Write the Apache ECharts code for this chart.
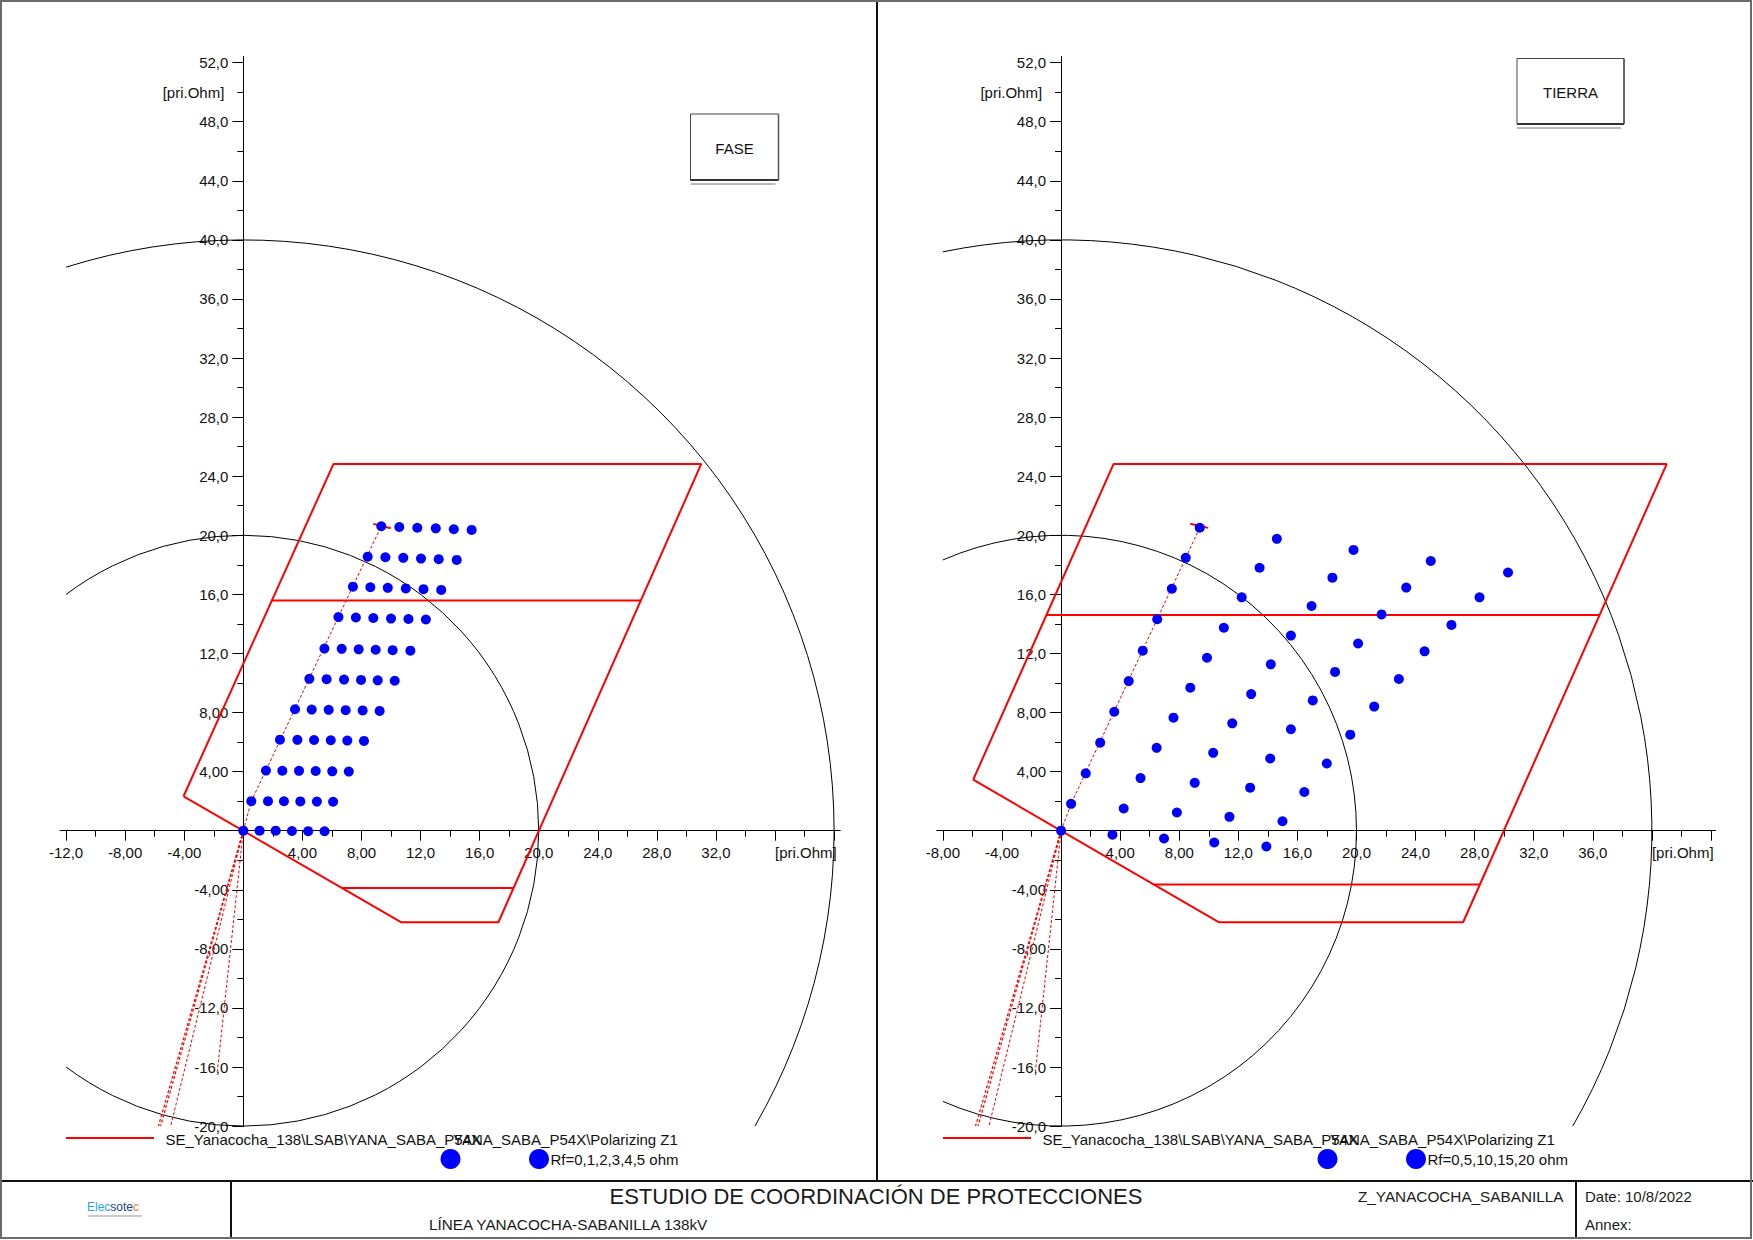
<!DOCTYPE html>
<html>
<head>
<meta charset="utf-8">
<script src="https://cdn.jsdelivr.net/npm/echarts@6/dist/echarts.min.js"></script>
<style>
html,body{margin:0;padding:0;background:#fff;}
#chart{width:1753px;height:1240px;}
</style>
</head>
<body>
<div id="chart"></div>
<script>
// ---------------- DATA ----------------
// axis ticks (ohm)
const leftXMajor = [-12,-8,-4,0,4,8,12,16,20,24,28,32,36,40];
const leftXMinor = [-10,-6,-2,2,6,10,14,18,22,26,30,34,38];
const leftXLabels = [-12,-8,-4,4,8,12,16,20,24,28,32];
const rightXMajor = [-8,-4,0,4,8,12,16,20,24,28,32,36,40,44];
const rightXMinor = [-6,-2,2,6,10,14,18,22,26,30,34,38,42];
const rightXLabels = [-8,-4,4,8,12,16,20,24,28,32,36];
const yMajor = [-20,-16,-12,-8,-4,0,4,8,12,16,20,24,28,32,36,40,44,48,52];
const yMinor = [-18,-14,-10,-6,-2,2,6,10,14,18,22,26,30,34,38,42,46,50];
const yLabels = [-20,-16,-12,-8,-4,4,8,12,16,20,24,28,32,36,40,44,48,52];
const leftXUnitAt = [36];
const rightXUnitAt = [40];
const yUnitAt = [50];
const unitText = '[pri.Ohm]';

// circles: [cx, cy, radius, startAngleDeg, endAngleDeg] (drawn clockwise)
const faseArcs = [[0,0,40,107.46,-30],[0,0,20,126.87,-126.87]];
const tierraArcs = [[0,0,40,101.54,-30],[0,0,20,113.58,-113.58]];

// FASE zone characteristic
const faseZone = [[-4.05,2.33],[6.1,24.82],[31.0,24.82],[17.27,-6.2],[10.7,-6.2],[-4.05,2.33]];
const faseZoneMid = [[1.93,15.58],[26.91,15.58]];
const faseZoneLow = [[6.75,-3.88],[18.29,-3.88]];
const faseLineImp = [[0,0],[0.54,2.0],[9.34,20.61]];
const faseLineEnd = [[8.80,20.77],[9.98,20.48]];
const faseRev1 = [[0,0],[-5.75,-20]];
const faseRev2 = [[0,0],[-5.6,-20]];
const faseRev3 = [[0,0],[-4.92,-20]];
const faseRev4 = [[0,0],[-1.76,-16.3]];

// TIERRA zone characteristic
const tierraZone = [[-5.95,3.45],[3.55,24.82],[41.0,24.82],[27.22,-6.2],[10.7,-6.2],[-5.95,3.45]];
const tierraZoneMid = [[-0.99,14.6],[36.45,14.6]];
const tierraZoneLow = [[6.3,-3.64],[28.36,-3.64]];
const tierraLineImp = [[0,0],[0.68,1.82],[9.39,20.51]];
const tierraLineEnd = [[8.75,20.78],[9.96,20.5]];
const tierraRev1 = [[0,0],[-5.79,-20]];
const tierraRev2 = [[0,0],[-5.62,-20]];
const tierraRev3 = [[0,0],[-4.88,-20]];
const tierraRev4 = [[0,0],[-1.74,-16.3]];

// FASE fault points, one row per line location, Rf = 0,1,2,3,4,5 ohm
const faseRows = [
  [[0,0],[1.10,0],[2.19,0],[3.29,-0.02],[4.39,-0.03],[5.50,-0.04]],
  [[0.54,2.0],[1.67,2.0],[2.75,1.99],[3.86,1.98],[4.98,1.97],[6.08,1.96]],
  [[1.53,4.07],[2.64,4.06],[3.77,4.05],[4.90,4.04],[6.02,4.02],[7.14,4.0]],
  [[2.48,6.16],[3.66,6.15],[4.79,6.14],[5.92,6.12],[7.04,6.10],[8.17,6.08]],
  [[3.50,8.22],[4.63,8.20],[5.78,8.18],[6.93,8.16],[8.08,8.14],[9.23,8.11]],
  [[4.47,10.28],[5.64,10.26],[6.82,10.23],[7.97,10.21],[9.10,10.18],[10.25,10.15]],
  [[5.49,12.33],[6.66,12.31],[7.81,12.28],[8.96,12.25],[10.11,12.22],[11.31,12.19]],
  [[6.44,14.46],[7.62,14.43],[8.80,14.40],[10.0,14.36],[11.18,14.33],[12.36,14.30]],
  [[7.42,16.52],[8.60,16.48],[9.78,16.44],[11.0,16.40],[12.2,16.35],[13.4,16.30]],
  [[8.42,18.55],[9.62,18.51],[10.83,18.47],[12.03,18.42],[13.23,18.38],[14.45,18.33]],
  [[9.34,20.61],[10.56,20.56],[11.78,20.51],[13.03,20.47],[14.25,20.41],[15.46,20.36]]
];

// TIERRA fault points, one column per Rf = 0,5,10,15,20 ohm
const tierraCols = [
  [[0,0],[0.68,1.82],[1.67,3.88],[2.65,5.96],[3.60,8.05],[4.58,10.13],[5.53,12.19],[6.51,14.32],[7.50,16.38],[8.44,18.47],[9.39,20.51]],
  [[3.48,-0.27],[4.24,1.50],[5.38,3.56],[6.47,5.61],[7.61,7.65],[8.75,9.68],[9.88,11.71],[11.02,13.74],[12.23,15.80],[13.44,17.80],[14.61,19.76]],
  [[6.97,-0.53],[7.84,1.23],[9.05,3.24],[10.30,5.27],[11.59,7.27],[12.87,9.25],[14.20,11.26],[15.56,13.21],[16.96,15.21],[18.37,17.13],[19.80,19.01]],
  [[10.37,-0.80],[11.40,0.94],[12.80,2.91],[14.16,4.89],[15.56,6.87],[17.04,8.82],[18.55,10.75],[20.11,12.67],[21.70,14.64],[23.37,16.46],[25.03,18.26]],
  [[13.90,-1.07],[14.99,0.64],[16.47,2.62],[17.99,4.55],[19.58,6.50],[21.20,8.40],[22.87,10.27],[24.61,12.14],[26.43,13.93],[28.33,15.80],[30.26,17.48]]
];

// texts
const legendRelay = 'SE_Yanacocha_138\\LSAB\\YANA_SABA_P54X';
const legendPolar = 'YANA_SABA_P54X\\Polarizing Z1';
const legendFaseRf = 'Rf=0,1,2,3,4,5 ohm';
const legendTierraRf = 'Rf=0,5,10,15,20 ohm';
const titleMain = 'ESTUDIO DE COORDINACIÓN DE PROTECCIONES';
const titleSub = 'LÍNEA YANACOCHA-SABANILLA 138kV';
const titleCode = 'Z_YANACOCHA_SABANILLA';
const titleDate = 'Date: 10/8/2022';
const titleAnnex = 'Annex:';

// ---------------- CHART ----------------
const FONT = "'Liberation Sans', Arial, Helvetica, sans-serif";
const RED = '#ff0000';
const BLUE = '#0000ff';

// grid layout (pixels) and axis extents
const Y_MIN = -20, Y_MAX = 52.4;
const G_TOP = 56.7, G_H = 1069.4;
const gridL = {left: 60.2, width: 779.8, xmin: -12.4, xmax: 40.4};
const gridR = {left: 937.0, width: 778.4, xmin: -8.4, xmax: 44.3};

// offsets that place the axes through the origin (axis labels follow the line)
function xOffset() { return -(0 - Y_MIN) * G_H / (Y_MAX - Y_MIN); }
function yOffset(g) { return -(0 - g.xmin) * g.width / (g.xmax - g.xmin); }

function fmt(v) {
  const a = Math.abs(v);
  const s = a >= 10 ? v.toFixed(1) : v.toFixed(2);
  return s.replace('.', ',');
}

function xMain(grid, g, ticks, labels) {
  return {
    type: 'value', gridIndex: grid, min: g.xmin, max: g.xmax, position: 'bottom', offset: xOffset(),
    axisLine: {show: true, onZero: false, lineStyle: {color: '#000', width: 1}},
    axisTick: {show: true, customValues: ticks, length: 10, inside: false, lineStyle: {color: '#000', width: 1}},
    axisLabel: {show: true, customValues: labels, formatter: fmt, margin: 14, color: '#111', fontSize: 15, fontFamily: FONT},
    splitLine: {show: false}
  };
}
function xMinor(grid, g, ticks, unitAt) {
  return {
    type: 'value', gridIndex: grid, min: g.xmin, max: g.xmax, position: 'bottom', offset: xOffset(),
    axisLine: {show: true, onZero: false, lineStyle: {color: '#000', width: 1}},
    axisTick: {show: true, customValues: ticks, length: 6, inside: false, lineStyle: {color: '#000', width: 1}},
    axisLabel: {show: true, customValues: unitAt, formatter: function () { return unitText; }, align: 'left', margin: 14, color: '#111', fontSize: 15, fontFamily: FONT},
    splitLine: {show: false}
  };
}
function yMain(grid, g) {
  return {
    type: 'value', gridIndex: grid, min: Y_MIN, max: Y_MAX, position: 'left', offset: yOffset(g),
    axisLine: {show: true, onZero: false, lineStyle: {color: '#000', width: 1}},
    axisTick: {show: true, customValues: yMajor, length: 11, inside: false, lineStyle: {color: '#000', width: 1}},
    axisLabel: {show: true, customValues: yLabels, formatter: fmt, margin: 15, color: '#111', fontSize: 15, fontFamily: FONT},
    splitLine: {show: false}
  };
}
function yMinorAxis(grid, g) {
  return {
    type: 'value', gridIndex: grid, min: Y_MIN, max: Y_MAX, position: 'left', offset: yOffset(g),
    axisLine: {show: true, onZero: false, lineStyle: {color: '#000', width: 1}},
    axisTick: {show: true, customValues: yMinor, length: 6, inside: false, lineStyle: {color: '#000', width: 1}},
    axisLabel: {show: true, customValues: yUnitAt, formatter: function () { return unitText; }, margin: 19, color: '#111', fontSize: 15, fontFamily: FONT},
    splitLine: {show: false}
  };
}

function renderArc(params, api) {
  const c = api.coord([api.value(0), api.value(1)]);
  const r = api.size([api.value(2), 0])[0];
  const a1 = -api.value(3) * Math.PI / 180;
  let a2 = -api.value(4) * Math.PI / 180;
  while (a2 <= a1) a2 += 2 * Math.PI;
  return {
    type: 'arc',
    shape: {cx: c[0], cy: c[1], r: r, startAngle: a1, endAngle: a2, clockwise: true},
    style: {fill: 'none', stroke: '#000', lineWidth: 1}
  };
}

function arcSeries(data, ax) {
  return {type: 'custom', xAxisIndex: ax, yAxisIndex: ax, renderItem: renderArc, data: data,
    encode: {x: 0, y: 1}, silent: true, z: 1};
}
function lineSeries(data, ax, width, dashed) {
  return {type: 'line', xAxisIndex: ax, yAxisIndex: ax, data: data, symbol: 'none', silent: true,
    lineStyle: {color: RED, width: width, type: dashed ? [3, 2] : 'solid'}, z: 3};
}
function dotSeries(data, ax) {
  return {type: 'scatter', xAxisIndex: ax, yAxisIndex: ax, data: data, symbol: 'circle', symbolSize: 10,
    itemStyle: {color: BLUE, opacity: 1}, silent: true, z: 5};
}

const faseDots = [].concat.apply([], faseRows);
const tierraDots = [].concat.apply([], tierraCols);

function txt(text, x, y, size, align, color) {
  return {type: 'text', silent: true, z: 10,
    style: {text: text, x: x, y: y, fill: color || '#1a1a1a', font: size + 'px ' + FONT,
      align: align || 'left', verticalAlign: 'middle', textAlign: align || 'left', textVerticalAlign: 'middle'}};
}
function ln(x1, y1, x2, y2, color, w) {
  return {type: 'line', silent: true, z: 10, shape: {x1: x1, y1: y1, x2: x2, y2: y2},
    style: {stroke: color, lineWidth: w}};
}
function dot(cx, cy, r) {
  return {type: 'circle', silent: true, z: 10, shape: {cx: cx, cy: cy, r: r}, style: {fill: BLUE}};
}
function legendBlock(x0, rfText) {
  return [
    ln(x0, 1138, x0 + 88, 1138, RED, 2),
    txt(legendRelay, x0 + 99.5, 1139, 15, 'left', '#111'),
    txt(legendPolar, x0 + 387, 1139, 15, 'left', '#111'),
    dot(x0 + 384.5, 1159, 10),
    dot(x0 + 473, 1159, 10),
    txt(rfText, x0 + 484.5, 1159, 15, 'left', '#111')
  ];
}
function labelBox(x, y, w, h, text) {
  return [
    {type: 'rect', silent: true, z: 10, shape: {x: x, y: y, width: w, height: h},
      style: {fill: '#fff', stroke: '#444', lineWidth: 1}},
    ln(x, y + h, x + w, y + h, '#333', 2),
    ln(x + w, y, x + w, y + h, '#555', 1.5),
    ln(x, y + h + 4, x + w - 3, y + h + 4, '#777', 1),
    txt(text, x + w / 2, y + h / 2 + 1, 15, 'center', '#111')
  ];
}

const graphics = [].concat(
  [
    {type: 'rect', silent: true, z: 20, shape: {x: 1, y: 1, width: 1750, height: 1237},
      style: {fill: 'none', stroke: '#6b6b6b', lineWidth: 2}},
    ln(877, 0, 877, 1181, '#111', 2),
    ln(0, 1181, 1753, 1181, '#111', 2),
    ln(231, 1181, 231, 1239, '#111', 2),
    ln(1576, 1181, 1576, 1239, '#111', 2),
    txt(titleMain, 876, 1196, 22, 'center', '#1a1a1a'),
    txt(titleSub, 429, 1224.5, 15.3, 'left', '#1a1a1a'),
    txt(titleCode, 1358, 1196, 15.3, 'left', '#1a1a1a'),
    txt(titleDate, 1585, 1196, 15, 'left', '#1a1a1a'),
    txt(titleAnnex, 1585, 1224.5, 15, 'left', '#1a1a1a'),
    {type: 'text', silent: true, z: 10,
      style: {x: 87, y: 1207, text: '{a|Elec}{b|sote}{c|c}', font: '12px ' + FONT,
        verticalAlign: 'middle', textVerticalAlign: 'middle',
        rich: {a: {fill: '#2aa6df', fontSize: 12, fontFamily: FONT},
               b: {fill: '#1e3f80', fontSize: 12, fontFamily: FONT},
               c: {fill: '#ef7d1a', fontSize: 12, fontFamily: FONT}}}},
    ln(88, 1216, 142, 1216, '#b8b8b8', 1.5)
  ],
  legendBlock(66, legendFaseRf),
  legendBlock(943, legendTierraRf),
  labelBox(690.5, 114, 88, 66, 'FASE'),
  labelBox(1517, 58.5, 107, 65.5, 'TIERRA')
);

const option = {
  animation: false,
  backgroundColor: '#fff',
  textStyle: {fontFamily: FONT},
  grid: [
    {left: gridL.left, top: G_TOP, width: gridL.width, height: G_H, containLabel: false, outerBoundsMode: 'none'},
    {left: gridR.left, top: G_TOP, width: gridR.width, height: G_H, containLabel: false, outerBoundsMode: 'none'}
  ],
  xAxis: [
    xMain(0, gridL, leftXMajor, leftXLabels),
    xMinor(0, gridL, leftXMinor, leftXUnitAt),
    xMain(1, gridR, rightXMajor, rightXLabels),
    xMinor(1, gridR, rightXMinor, rightXUnitAt)
  ],
  yAxis: [yMain(0, gridL), yMinorAxis(0, gridL), yMain(1, gridR), yMinorAxis(1, gridR)],
  graphic: graphics,
  series: [
    arcSeries(faseArcs, 0),
    lineSeries(faseZone, 0, 2, false),
    lineSeries(faseZoneMid, 0, 2, false),
    lineSeries(faseZoneLow, 0, 2, false),
    lineSeries(faseLineImp, 0, 1, true),
    lineSeries(faseLineEnd, 0, 2, false),
    lineSeries(faseRev1, 0, 1.2, true),
    lineSeries(faseRev2, 0, 1.2, true),
    lineSeries(faseRev3, 0, 1, true),
    lineSeries(faseRev4, 0, 1, true),
    dotSeries(faseDots, 0),

    arcSeries(tierraArcs, 2),
    lineSeries(tierraZone, 2, 2, false),
    lineSeries(tierraZoneMid, 2, 2, false),
    lineSeries(tierraZoneLow, 2, 2, false),
    lineSeries(tierraLineImp, 2, 1, true),
    lineSeries(tierraLineEnd, 2, 2, false),
    lineSeries(tierraRev1, 2, 1.2, true),
    lineSeries(tierraRev2, 2, 1.2, true),
    lineSeries(tierraRev3, 2, 1, true),
    lineSeries(tierraRev4, 2, 1, true),
    dotSeries(tierraDots, 2)
  ]
};

const chart = echarts.init(document.getElementById('chart'), null, {renderer: 'svg', width: 1753, height: 1240});
chart.setOption(option);
</script>
</body>
</html>
